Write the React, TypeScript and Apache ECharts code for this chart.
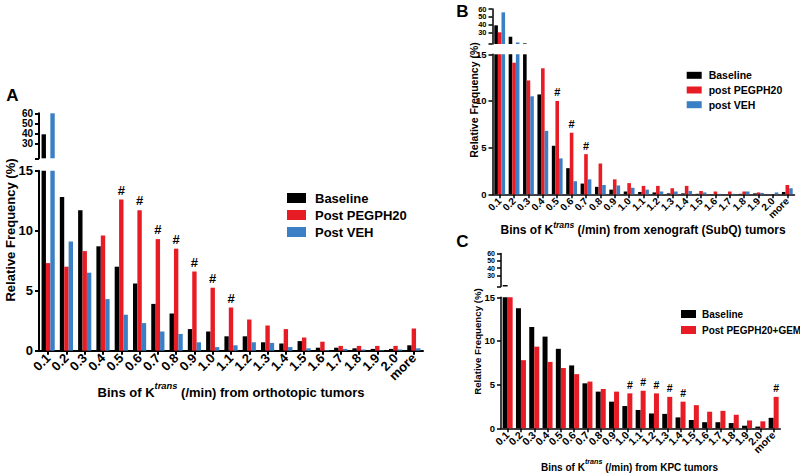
import React, { useEffect, useRef } from 'react';
import * as echarts from 'echarts';

const categories = ['0.1','0.2','0.3','0.4','0.5','0.6','0.7','0.8','0.9','1.0','1.1','1.2','1.3','1.4','1.5','1.6','1.7','1.8','1.9','2.0','more'];

// Panel A – orthotopic tumors
const aBaseline = [39, 12.8, 11.7, 8.7, 7.0, 5.6, 3.9, 3.1, 1.8, 1.6, 1.2, 1.2, 0.7, 0.6, 0.8, 0.25, 0.25, 0.2, 0.15, 0.15, 0.45];
const aPostPEGPH20 = [7.3, 7.0, 8.3, 9.6, 12.6, 11.7, 9.3, 8.5, 6.6, 5.25, 3.6, 2.6, 2.1, 1.8, 1.1, 0.75, 0.4, 0.4, 0.4, 0.4, 1.85];
const aPostVEH = [60, 9.1, 6.5, 4.3, 3.0, 2.3, 1.6, 1.4, 0.7, 0.3, 0.45, 0.7, 0.65, 0.3, 0.2, 0.05, 0.15, 0.1, 0.05, 0.1, 0.2];
const aSignificant = ['0.5','0.6','0.7','0.8','0.9','1.0','1.1'];

// Panel B – xenograft (SubQ) tumors
const bBaseline = [39, 24.4, 15.8, 10.7, 5.2, 2.8, 1.15, 0.8, 0.5, 0.3, 0.25, 0.2, 0.1, 0.1, 0.05, 0.02, 0, 0.05, 0.1, 0, 0.25];
const bPostPEGPH20 = [30, 14.1, 12.2, 13.5, 10.0, 6.6, 4.3, 3.3, 1.6, 1.2, 0.9, 0.9, 0.65, 0.9, 0.35, 0.3, 0.3, 0.3, 0.2, 0.02, 1.0];
const bPostVEH = [55.7, 17, 10.5, 6.8, 3.85, 1.4, 1.6, 1.0, 0.95, 0.7, 0.5, 0.3, 0.3, 0.35, 0.2, 0.05, 0.05, 0.3, 0.15, 0.2, 0.65];
const bSignificant = ['0.5','0.6','0.7'];

// Panel C – KPC tumors
const cBaseline = [17, 13.75, 11.6, 10.5, 9.1, 7.2, 5.15, 4.2, 3.05, 2.55, 2.1, 1.7, 1.65, 1.25, 0.95, 0.7, 0.7, 0.6, 0.3, 0.2, 1.2];
const cPostPEGPH20GEM = [15, 7.8, 9.35, 7.6, 6.9, 6.2, 5.35, 4.5, 4.2, 4.0, 4.3, 4.0, 3.6, 3.05, 2.65, 1.9, 2.0, 1.55, 0.9, 0.8, 3.6];
const cSignificant = ['1.0','1.1','1.2','1.3','1.4','more'];

const lowerMax = 15;
const upperMax = 60;
const upperLabelsEven = [40, 60];
const upperLabelsOdd = [30, 50];
const upperTicks = [15, 30, 40, 50, 60];

const BLACK = '#000000';
const RED = '#e81c24';
const BLUE = '#3b80c4';
const FONT = '"Liberation Sans", Arial, sans-serif';

type SeriesSpec = { name: string; data: number[]; color: string; sig?: string[] };
type PanelSpec = {
  left: number; width: number; lowTop: number; lowH: number; upTop: number; upH: number;
  axisW: number; tickFont: number; yFont: number; upYFont: number; barWidth: number; sigFont: number;
  series: SeriesSpec[];
};

function buildPanel(p: PanelSpec, out: any) {
  const gLo = out.grid.length;
  const gUp = gLo + 1;
  out.grid.push({ left: p.left, width: p.width, top: p.lowTop, height: p.lowH });
  out.grid.push({ left: p.left, width: p.width, top: p.upTop, height: p.upH });
  const xLo = out.xAxis.length;
  const xUp = xLo + 1;
  const axisLine = { show: true, lineStyle: { color: '#000', width: p.axisW } };
  out.xAxis.push({
    type: 'category', gridIndex: gLo, data: categories,
    axisLine,
    axisTick: { show: true, alignWithLabel: true, length: 4, lineStyle: { color: '#000', width: p.axisW } },
    axisLabel: { rotate: 45, interval: 0, fontSize: p.tickFont, fontWeight: 'bold', color: '#000', margin: 5, fontFamily: FONT },
  });
  out.xAxis.push({ type: 'category', gridIndex: gUp, data: categories, show: false });
  const yLo = out.yAxis.length;
  const yUp = yLo + 1;
  out.yAxis.push({
    type: 'value', gridIndex: gLo, min: 0, max: lowerMax, interval: 5,
    axisLine,
    axisTick: { show: true, length: 4, lineStyle: { color: '#000', width: p.axisW } },
    splitLine: { show: false },
    axisLabel: { fontSize: p.yFont, fontWeight: 'bold', color: '#000', margin: 6, fontFamily: FONT },
  });
  const upLabel = { hideOverlap: false, fontSize: p.upYFont, fontWeight: 'bold', color: '#000', margin: 6, fontFamily: FONT };
  out.yAxis.push({
    type: 'value', gridIndex: gUp, min: lowerMax, max: upperMax, position: 'left',
    axisLine,
    axisTick: { show: true, length: 4, customValues: upperTicks, lineStyle: { color: '#000', width: p.axisW } },
    splitLine: { show: false },
    axisLabel: { ...upLabel, customValues: upperLabelsEven },
  });
  out.yAxis.push({
    type: 'value', gridIndex: gUp, min: lowerMax, max: upperMax, position: 'left', offset: 0,
    axisLine: { show: false }, axisTick: { show: false }, splitLine: { show: false },
    axisLabel: { ...upLabel, customValues: upperLabelsOdd },
  });
  p.series.forEach((s) => {
    const sig = s.sig;
    out.series.push({
      type: 'bar', name: s.name, xAxisIndex: xLo, yAxisIndex: yLo, data: s.data,
      barWidth: p.barWidth, barGap: '0%', clip: true,
      itemStyle: { color: s.color },
      label: sig ? {
        show: true, position: 'top', distance: 3, color: '#000', fontWeight: 'bold', fontSize: p.sigFont, fontFamily: FONT,
        formatter: (q: any) => (sig.includes(categories[q.dataIndex]) ? '#' : ''),
      } : { show: false },
    });
    out.series.push({
      type: 'bar', name: s.name, xAxisIndex: xUp, yAxisIndex: yUp,
      data: s.data.map((v) => (v > lowerMax ? v : '-')),
      barWidth: p.barWidth, barGap: '0%', clip: true,
      itemStyle: { color: s.color },
    });
  });
}

function titleText(x: number, y: number, main: string, tail: string, size: number) {
  return {
    type: 'text', x, y,
    style: {
      text: `{b|${main}}{s|trans}{b|${tail}}`,
      align: 'center', verticalAlign: 'middle', textAlign: 'center', textVerticalAlign: 'middle',
      fill: '#000',
      rich: {
        b: { fontSize: size, fontWeight: 'bold', fontFamily: FONT, fill: '#000', color: '#000', lineHeight: size + 4, verticalAlign: 'bottom' },
        s: { fontSize: size * 0.72, fontWeight: 'bold', fontStyle: 'italic', fontFamily: FONT, fill: '#000', color: '#000', lineHeight: size * 0.72, verticalAlign: 'top' },
      },
    },
  };
}

function plainText(x: number, y: number, text: string, size: number, rotate = 0) {
  return {
    type: 'text', x, y, rotation: rotate,
    style: {
      text, fontSize: size, fontWeight: 'bold', fontFamily: FONT, fill: '#000',
      font: `bold ${size}px ${FONT}`,
      align: 'center', verticalAlign: 'middle', textAlign: 'center', textVerticalAlign: 'middle',
    },
  };
}

function legendSpec(left: number, top: number, names: string[], iw: number, ih: number, size: number, gap: number, pad: number) {
  return {
    left, top, orient: 'vertical', icon: 'rect', itemWidth: iw, itemHeight: ih, itemGap: gap, padding: 0,
    selectedMode: false, data: names,
    textStyle: { fontSize: size, fontWeight: 'bold', color: '#000', fontFamily: FONT, padding: [0, 0, 0, pad] },
  };
}

export default function App() {
  const ref = useRef<HTMLDivElement>(null);
  useEffect(() => {
    if (!ref.current) return;
    const chart = echarts.init(ref.current, undefined, { renderer: 'svg' });
    const out: any = { grid: [], xAxis: [], yAxis: [], series: [] };
    buildPanel({
      left: 39, width: 384, lowTop: 170.7, lowH: 180, upTop: 113.3, upH: 45,
      axisW: 2, tickFont: 13, yFont: 13, upYFont: 10, barWidth: 4.4, sigFont: 13,
      series: [
        { name: 'Baseline', data: aBaseline, color: BLACK },
        { name: 'Post PEGPH20', data: aPostPEGPH20, color: RED, sig: aSignificant },
        { name: 'Post VEH', data: aPostVEH, color: BLUE },
      ],
    }, out);
    buildPanel({
      left: 492.5, width: 302, lowTop: 54.3, lowH: 140, upTop: 9, upH: 35,
      axisW: 1.5, tickFont: 10, yFont: 9.5, upYFont: 7.5, barWidth: 3.6, sigFont: 11,
      series: [
        { name: 'Baseline', data: bBaseline, color: BLACK },
        { name: 'post PEGPH20', data: bPostPEGPH20, color: RED, sig: bSignificant },
        { name: 'post VEH', data: bPostVEH, color: BLUE },
      ],
    }, out);
    buildPanel({
      left: 501, width: 279.3, lowTop: 297.3, lowH: 131, upTop: 253.5, upH: 33,
      axisW: 1.5, tickFont: 10.5, yFont: 9.5, upYFont: 7, barWidth: 5, sigFont: 10.5,
      series: [
        { name: 'Baseline', data: cBaseline, color: BLACK },
        { name: 'Post PEGPH20+GEM', data: cPostPEGPH20GEM, color: RED, sig: cSignificant },
      ],
    }, out);

    chart.setOption({
      animation: false,
      backgroundColor: '#ffffff',
      textStyle: { fontFamily: FONT },
      ...out,
      legend: [
        legendSpec(287, 191.5, ['Baseline', 'Post PEGPH20', 'Post VEH'], 19, 10, 13, 4, 4),
        legendSpec(686.7, 69.8, ['Baseline', 'post PEGPH20', 'post VEH'], 15, 7, 10.5, 3.7, 2),
        legendSpec(681, 309, ['Baseline', 'Post PEGPH20+GEM'], 15, 8, 10, 6, 1),
      ],
      graphic: [
        plainText(12.5, 95, 'A', 17),
        plainText(462.5, 11, 'B', 17),
        plainText(462.5, 241.7, 'C', 17),
        plainText(10, 230, 'Relative Frequency (%)', 13, Math.PI / 2),
        plainText(474, 100, 'Relative Frequency (%)', 10.5, Math.PI / 2),
        plainText(477, 341.5, 'Relative Frequency (%)', 9.7, Math.PI / 2),
        titleText(231, 390, 'Bins of K', ' (/min) from orthotopic tumors', 13),
        titleText(643, 228, 'Bins of K', ' (/min) from xenograft (SubQ) tumors', 12),
        titleText(629.5, 465, 'Bins of K', ' (/min) from KPC tumors', 10),
      ],
    });
    return () => chart.dispose();
  }, []);
  return <div ref={ref} style={{ position: 'absolute', left: 0, top: 0, width: 800, height: 473, background: '#fff' }} />;
}
